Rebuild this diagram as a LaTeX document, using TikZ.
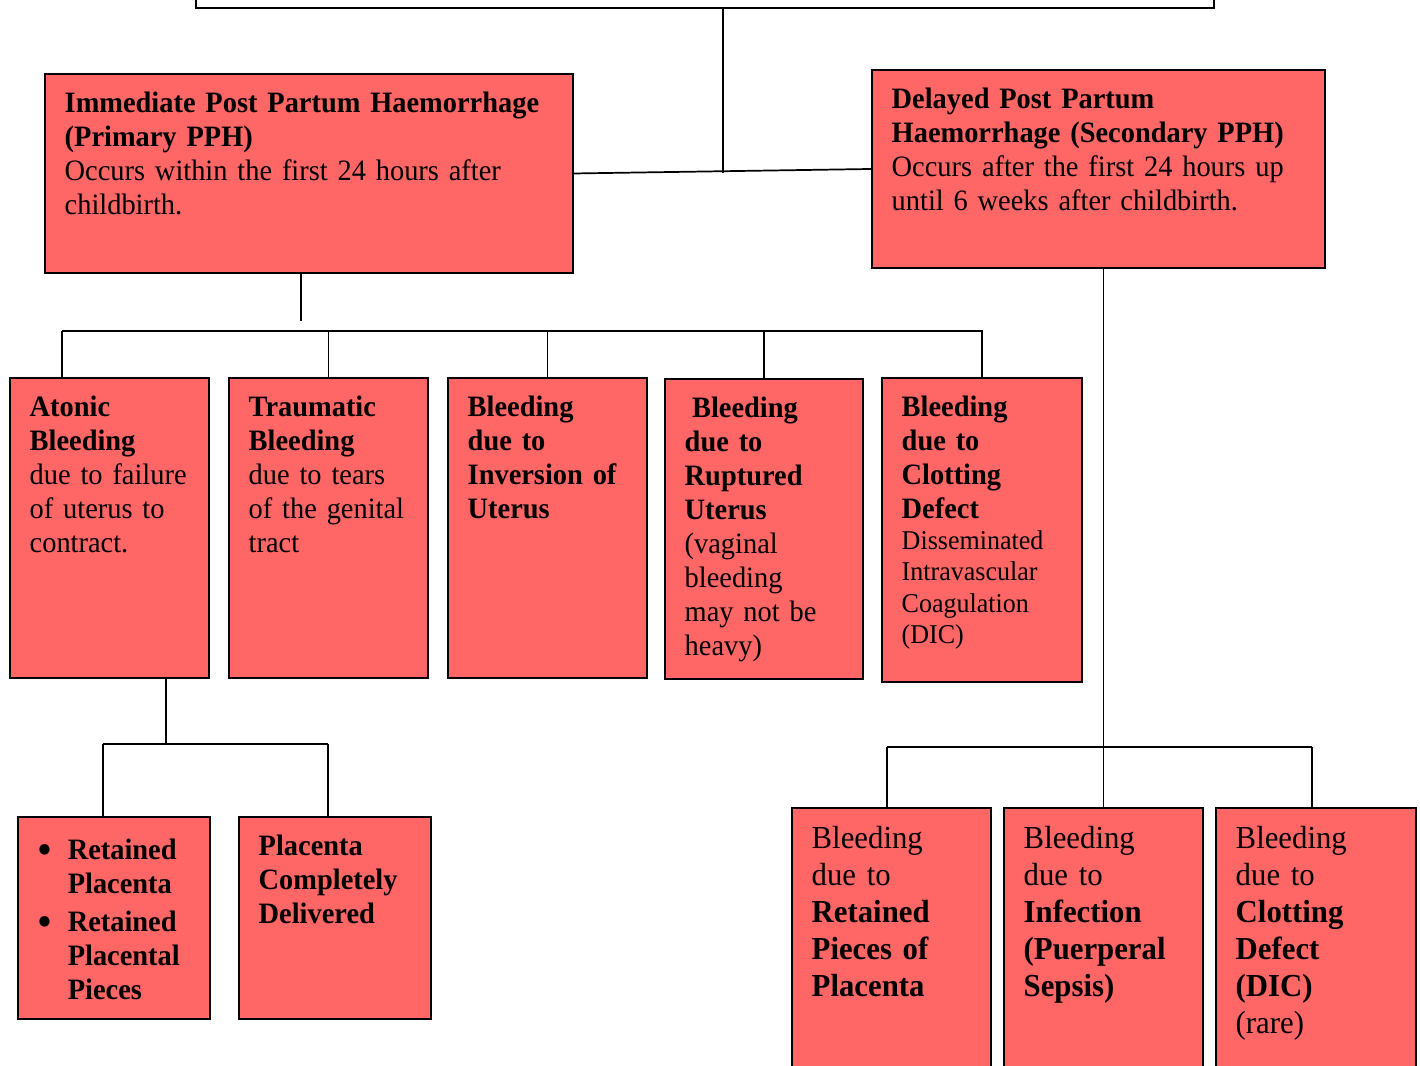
\documentclass[tikz,border=0pt]{standalone}
\usepackage{fontspec}
\setmainfont{Liberation Serif}[FakeStretch=0.96]
\definecolor{pphred}{HTML}{FF6666}
\hyphenpenalty=10000
\newcommand{\pphbullet}{\makebox[12.2pt][l]{\raisebox{-2pt}{\fontsize{18}{18}\selectfont\textbullet}}}

\begin{document}
\begin{tikzpicture}[x=0.40563pt, y=-0.40563pt,
    pphbox/.style={draw=black, line width=0.8pt, fill=pphred, anchor=north west,
        inner xsep=8pt, inner ysep=0pt, align=left, text height=15.6pt,
        font=\fontsize{12}{13.8}\selectfont},
    bigbox/.style={pphbox, text height=16.5pt, text depth=97pt,
        font=\fontsize{13}{15}\selectfont},
    link/.style={draw=black, line width=0.7pt}]
    % Fix the page to the size of the reference and cut off what runs over
    \useasboundingbox (0,0) rectangle (1420,1065);
    \clip (0,0) rectangle (1420,1065);
    % Top box, only its lower edge shows
    \node[draw=black, line width=0.8pt, fill=white, anchor=south west,
        minimum width=412.9pt, minimum height=40pt] (root) at (195,9) {};
    % Primary and secondary PPH
    \node[pphbox, text width=198.2pt, text depth=65.1pt] (prim) at (44,73)
        {\textbf{Immediate Post Partum Haemorrhage}\\\textbf{(Primary PPH)}\\
         Occurs within the first 24 hours after\\childbirth.};
    \node[pphbox, text width=167.75pt, text depth=64.7pt] (sec) at (871,69)
        {\textbf{Delayed Post Partum}\\\textbf{Haemorrhage (Secondary PPH)}\\
         Occurs after the first 24 hours up\\until 6 weeks after childbirth.};
    % Causes of primary PPH
    \node[pphbox, text width=64.7pt, text depth=106.1pt] (atonic) at (9,377)
        {\textbf{Atonic}\\\textbf{Bleeding}\\due to failure\\of uterus to\\contract.};
    \node[pphbox, text width=64.7pt, text depth=106.1pt] (traum) at (228,377)
        {\textbf{Traumatic}\\\textbf{Bleeding}\\due to tears\\of the genital\\tract};
    \node[pphbox, text width=64.7pt, text depth=106.1pt] (invers) at (447,377)
        {\textbf{Bleeding}\\\textbf{due to}\\\textbf{Inversion of}\\\textbf{Uterus}};
    \node[pphbox, text width=64.3pt, text depth=106.1pt] (rupt) at (664,378)
        {\hspace*{0.25em}\textbf{Bleeding}\\\textbf{due to}\\\textbf{Ruptured}\\\textbf{Uterus}\\
         (vaginal\\bleeding\\may not be\\heavy)};
    \node[pphbox, text width=65.1pt, text depth=107.7pt] (clot) at (881,377)
        {\textbf{Bleeding}\\\textbf{due to}\\\textbf{Clotting}\\\textbf{Defect}\par
         {\fontsize{11}{12.65}\selectfont Disseminated\\Intravascular\\Coagulation\\(DIC)\par}};
    % Atonic bleeding splits by the placenta
    \node[pphbox, text width=61.9pt, text height=17.4pt, text depth=64.5pt] (retp) at (17,816)
        {\pphbullet\textbf{Retained}\\\hspace*{12.2pt}\textbf{Placenta}\par
         \vspace{1.6pt}\pphbullet\textbf{Retained}\\
         \hspace*{12.2pt}\textbf{Placental}\\\hspace*{12.2pt}\textbf{Pieces}};
    \node[pphbox, text width=61.9pt, text depth=66.3pt] (deliv) at (238,816)
        {\textbf{Placenta}\\\textbf{Completely}\\\textbf{Delivered}};
    % Causes of secondary PPH
    \node[bigbox, text width=64.7pt] (retpc) at (791,807)
        {Bleeding\\due to\\\textbf{Retained}\\\textbf{Pieces of}\\\textbf{Placenta}};
    \node[bigbox, text width=64.7pt] (infect) at (1003,807)
        {Bleeding\\due to\\\textbf{Infection}\\\textbf{(Puerperal}\\\textbf{Sepsis)}};
    \node[bigbox, text width=65.1pt] (clotdic) at (1215,807)
        {Bleeding\\due to\\\textbf{Clotting}\\\textbf{Defect}\\\textbf{(DIC)}\\(rare)};
    % Junction points of the tree
    \coordinate (j0) at (723,173);
    \coordinate (j1) at (301,321);
    \coordinate (b1l) at (62,331);
    \coordinate (b1r) at (983,331);
    \coordinate (j2) at (166,744);
    \coordinate (b2l) at (103,744);
    \coordinate (b2r) at (328,744);
    \coordinate (b3l) at (887,747);
    \coordinate (b3r) at (1312,747);
    % Connectors
    \draw[link] (root.south -| j0) -- (j0);
    \draw[link] (prim.east) -- (sec.west);
    \draw[link] (prim.south -| j1) -- (j1);
    \draw[link] (b1l) -- (b1r);
    \draw[link] (atonic.north -| b1l) -- (b1l);
    \foreach \n in {traum,invers,rupt,clot}
        \draw[link] (\n.north) -- (\n.north |- b1l);
    \draw[link] (atonic.south -| j2) -- (j2);
    \draw[link] (b2l) -- (b2r);
    \draw[link] (retp.north -| b2l) -- (b2l);
    \draw[link] (deliv.north -| b2r) -- (b2r);
    \draw[link] (sec.south -| infect.north) -- (infect.north);
    \draw[link] (b3l) -- (b3r);
    \draw[link] (retpc.north -| b3l) -- (b3l);
    \draw[link] (clotdic.north -| b3r) -- (b3r);
\end{tikzpicture}
\end{document}
